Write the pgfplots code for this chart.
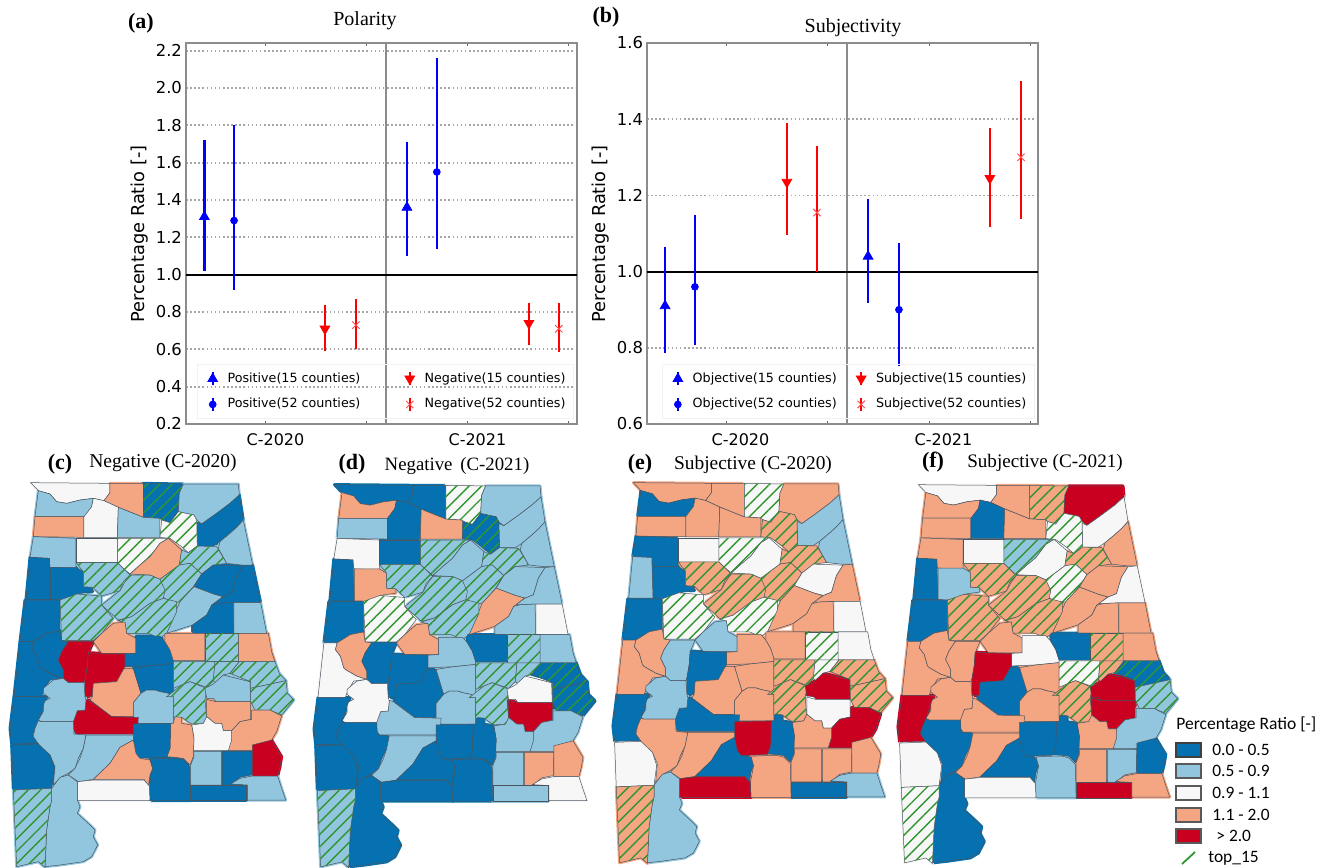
\documentclass[border=0pt]{standalone}
\usepackage{fontspec}
\usepackage{pgfplots}
\pgfplotsset{compat=1.18}
\usetikzlibrary{patterns.meta}
\setmainfont{Liberation Serif}
\newfontfamily\djv{DejaVu Sans}
\newfontfamily\carl{Carlito}
\definecolor{dk}{HTML}{0571B0}
\definecolor{lb}{HTML}{92C5DE}
\definecolor{wh}{HTML}{F7F7F7}
\definecolor{or}{HTML}{F4A582}
\definecolor{rd}{HTML}{CA0020}
\definecolor{bd}{HTML}{4A5560}
\definecolor{hatch}{HTML}{2F962F}
% county outlines, in units of 1/3 px from the top left of map (c)
\def\cLaud{(92,38)(330,40)(330,68)(312,92)(280,85)(240,90)(200,100)(170,95)(150,72)(115,62)}
\def\cLime{(330,40)(430,40)(430,142)(400,130)(355,112)(312,92)(330,68)}
\def\cMadi{(430,40)(550,42)(538,70)(535,125)(510,158)(485,150)(480,145)(430,142)}
\def\cJack{(550,42)(715,42)(718,75)(690,100)(650,130)(605,162)(590,150)(582,135)(535,125)(538,70)}
\def\cDeka{(718,75)(730,150)(712,170)(690,190)(660,215)(640,228)(592,228)(590,155)(605,162)(650,130)(690,100)}
\def\cCher{(730,150)(758,285)(725,285)(680,280)(655,235)(660,215)(690,190)(712,170)}
\def\cColb{(115,62)(150,72)(170,95)(200,100)(240,90)(280,85)(275,110)(255,140)(105,140)}
\def\cFran{(105,140)(252,140)(252,202)(100,200)}
\def\cLawr{(280,85)(312,92)(355,112)(352,202)(252,202)(252,140)(275,110)}
\def\cMorg{(355,112)(400,130)(430,142)(480,145)(480,202)(352,202)}
\def\cMars{(485,150)(510,158)(535,125)(582,135)(590,150)(592,228)(565,248)(545,230)(510,205)(480,202)}
\def\cMari{(100,200)(228,205)(228,295)(150,292)(148,265)(90,262)}
\def\cWins{(228,205)(352,205)(352,278)(228,278)}
\def\cCull{(352,205)(505,205)(480,220)(450,260)(420,285)(390,312)(370,295)(352,278)}
\def\cBlou{(505,205)(545,240)(538,285)(480,328)(450,315)(390,312)(420,285)(450,260)(480,220)}
\def\cEtow{(565,248)(592,228)(650,230)(680,280)(640,285)(605,312)(570,280)(538,285)(545,240)}
\def\cLama{(90,262)(148,265)(152,388)(78,388)}
\def\cFaye{(152,292)(228,292)(250,305)(250,350)(278,352)(278,365)(230,372)(215,390)(152,388)}
\def\cWalk{(228,278)(352,278)(390,315)(370,335)(360,362)(305,378)(278,352)(250,350)(250,305)}
\def\cStcl{(480,328)(538,285)(570,280)(605,312)(580,350)(565,368)(540,395)(520,400)(490,382)}
\def\cJeff{(390,315)(450,315)(480,328)(495,360)(490,385)(450,400)(395,440)(355,450)(305,405)(360,362)(375,335)}
\def\cCalh{(605,312)(640,285)(730,288)(710,320)(695,370)(670,380)(640,372)(582,350)}
\def\cCleb{(730,288)(758,285)(782,398)(700,398)(655,400)(640,400)(670,380)(695,370)(710,320)}
\def\cTall{(582,350)(640,372)(668,380)(635,405)(620,435)(578,465)(500,490)(540,395)(565,368)}
\def\cClay{(655,400)(700,398)(702,490)(578,490)(578,465)(620,435)(635,405)}
\def\cRand{(702,398)(782,398)(800,490)(702,490)}
\def\cPick{(75,390)(180,390)(180,482)(140,490)(100,515)(60,515)}
\def\cTusc{(180,390)(230,372)(305,378)(305,405)(340,445)(305,490)(280,512)(185,512)}
\def\cShel{(355,452)(395,440)(450,400)(490,385)(530,395)(530,425)(500,490)(480,505)(445,490)(380,490)(375,458)}
\def\cBibb{(340,460)(375,456)(380,490)(408,505)(408,550)(305,550)(280,515)(305,490)}
\def\cChil{(408,498)(480,498)(495,515)(510,540)(520,570)(520,580)(450,587)(375,590)(375,552)(408,550)}
\def\cCoos{(495,490)(615,490)(615,572)(520,572)(510,540)(495,515)}
\def\cTapo{(615,490)(715,490)(715,575)(615,575)}
\def\cCham{(715,490)(805,490)(815,545)(825,575)(715,575)}
\def\cSumt{(60,515)(100,515)(95,535)(110,555)(120,590)(125,595)(160,615)(190,625)(150,630)(130,665)(125,680)(42,680)}
\def\cGree{(100,515)(140,490)(180,482)(185,512)(205,515)(185,545)(175,570)(190,600)(190,625)(160,615)(125,595)(120,590)(110,555)(95,535)}
\def\cHale{(205,515)(280,515)(265,550)(262,590)(255,630)(252,638)(205,638)(190,625)(190,600)(175,570)(185,545)}
\def\cPerr{(265,548)(305,550)(375,552)(375,590)(360,625)(350,635)(280,640)(277,680)(255,680)(255,630)(262,590)}
\def\cDall{(280,640)(350,635)(372,595)(400,595)(423,670)(400,698)(400,740)(335,740)(270,690)(277,680)}
\def\cAuta{(400,595)(450,587)(520,580)(520,680)(505,670)(480,665)(465,660)(440,660)(423,670)}
\def\cLown{(400,698)(423,670)(440,660)(465,660)(480,665)(505,670)(520,680)(520,760)(400,760)}
\def\cWilc{(258,688)(270,692)(335,740)(415,742)(412,792)(228,792)(220,780)(220,750)(232,722)(255,720)}
\def\cHA{(520,575)(645,575)(640,632)(620,652)(570,635)(545,645)(520,655)}
\def\cHB{(500,680)(545,645)(570,635)(620,655)(615,690)(620,745)(610,760)(575,762)(545,742)(520,742)(520,680)}
\def\cHC{(645,575)(718,575)(690,610)(670,615)(650,640)(640,632)}
\def\cHD{(690,610)(718,575)(825,575)(838,610)(858,632)(752,655)(752,635)}
\def\cHE{(752,655)(858,632)(862,670)(882,690)(845,735)(810,720)(765,720)(752,695)}
\def\cFF{(615,655)(640,642)(670,615)(750,635)(752,695)(648,695)(640,685)(620,685)}
\def\cGG{(620,688)(648,695)(752,695)(752,748)(720,755)(695,782)(670,782)(665,760)(645,760)(620,740)}
\def\cHH{(755,720)(810,720)(845,738)(830,785)(815,810)(800,840)(755,842)(685,842)(695,782)(720,755)(755,748)}
\def\cII{(575,765)(610,760)(620,740)(645,760)(665,760)(670,782)(695,782)(695,810)(685,842)(580,842)(582,805)}
\def\cJJ{(512,760)(520,760)(525,740)(545,742)(545,760)(575,765)(582,805)(580,860)(570,885)(550,865)(525,862)(500,860)(510,835)}
\def\cKK{(400,762)(512,760)(510,835)(500,862)(420,865)(405,852)(400,820)}
\def\cNN{(130,655)(160,630)(190,625)(205,638)(252,638)(255,680)(258,690)(255,720)(232,722)(220,755)(125,755)(115,750)(130,725)(130,695)(150,685)(130,670)}
\def\cOO{(42,680)(140,680)(128,710)(115,752)(105,775)(98,795)(115,820)(35,822)(30,775)}
\def\cPP{(125,755)(220,755)(222,792)(258,795)(250,835)(235,865)(225,895)(205,910)(185,920)(160,945)(165,890)(150,855)(125,835)(100,800)(105,775)(115,752)}
\def\cQQ{(35,825)(115,822)(150,855)(163,895)(155,955)(40,960)}
\def\cRR{(258,795)(400,795)(400,810)(360,832)(330,880)(280,928)(235,935)(205,915)(225,895)(240,865)(250,835)}
\def\cSS{(400,810)(408,850)(420,865)(450,870)(458,895)(450,915)(445,948)(432,928)(280,928)(330,880)(360,832)}
\def\cTT{(450,867)(500,865)(530,865)(550,870)(570,890)(572,992)(450,992)(448,948)(458,895)}
\def\cUU{(582,845)(665,845)(665,945)(572,945)(572,885)(582,860)}
\def\cVV{(668,845)(757,845)(755,915)(720,922)(692,945)(668,945)}
\def\cWW{(757,825)(815,810)(830,835)(845,860)(840,890)(833,918)(757,918)}
\def\cXX{(692,942)(720,925)(757,918)(833,918)(845,955)(857,990)(742,990)(742,945)}
\def\cYY{(572,945)(740,945)(740,992)(572,992)}
\def\cZZ{(232,935)(280,930)(432,930)(448,948)(450,992)(232,992)}
\def\cBald{(155,955)(180,922)(205,915)(232,935)(232,990)(240,1010)(232,1030)(270,1065)(285,1080)(280,1100)(293,1125)(275,1160)(250,1175)(180,1185)(135,1190)(140,1080)(150,1010)(155,990)}
\def\cMobi{(40,960)(155,955)(155,990)(150,1010)(140,1080)(135,1192)(115,1175)(50,1190)}
% pass 1 closes the seams between neighbours; pass 2 draws county, outline and hatching
\newcommand\ctyunder[2]{\edef\tmp{\noexpand\addplot[fill=#2,draw=#2,line width=1.5pt,line join=round,no marks,sharp plot] coordinates {\csname c#1\endcsname} -- cycle;}\tmp}
\newcommand\ctyfull[2]{\edef\tmp{\noexpand\addplot[fill=#2,draw=bd,line width=.25pt,no marks,sharp plot] coordinates {\csname c#1\endcsname} -- cycle;}\tmp}
\newcommand\cthfull[2]{\ctyfull{#1}{#2}\edef\tmp{\noexpand\addplot[draw=none,no marks,sharp plot,pattern={Lines[angle=45,distance=4.4pt,line width=.7pt]},pattern color=hatch] coordinates {\csname c#1\endcsname} -- cycle;}\tmp}
\newcommand\drawmap[1]{\let\cty\ctyunder\let\cth\ctyunder #1\let\cty\ctyfull\let\cth\cthfull #1}
\def\listC{\cty{Laud}{wh}\cty{Lime}{or}\cth{Madi}{dk}\cty{Jack}{lb}\cty{Deka}{dk}\cty{Cher}{lb}%
\cty{Colb}{lb}\cty{Fran}{or}\cty{Lawr}{wh}\cty{Morg}{lb}\cth{Mars}{wh}%
\cty{Mari}{lb}\cty{Wins}{wh}\cth{Cull}{wh}\cty{Blou}{or}\cth{Etow}{lb}%
\cty{Lama}{dk}\cty{Faye}{dk}\cth{Walk}{lb}\cth{Stcl}{lb}\cth{Jeff}{lb}\cty{Calh}{dk}\cty{Cleb}{dk}%
\cty{Tall}{lb}\cty{Clay}{dk}\cty{Rand}{lb}\cty{Pick}{dk}\cth{Tusc}{lb}\cth{Shel}{lb}\cty{Bibb}{or}%
\cty{Chil}{dk}\cty{Coos}{or}\cth{Tapo}{lb}\cty{Cham}{or}\cty{Sumt}{dk}\cty{Gree}{dk}\cty{Hale}{rd}\cty{Perr}{rd}%
\cty{Dall}{or}\cty{Auta}{dk}\cty{Lown}{lb}\cty{Wilc}{rd}\cth{HA}{lb}\cth{HB}{lb}\cth{HC}{lb}\cth{HD}{lb}\cth{HE}{lb}%
\cty{FF}{lb}\cty{GG}{or}\cty{HH}{or}\cty{II}{wh}\cty{JJ}{or}\cty{KK}{dk}\cty{NN}{lb}\cty{OO}{dk}\cty{PP}{lb}\cty{QQ}{dk}%
\cty{RR}{lb}\cty{SS}{or}\cty{TT}{dk}\cty{UU}{lb}\cty{VV}{dk}\cty{WW}{rd}\cty{XX}{lb}\cty{YY}{dk}\cty{ZZ}{wh}\cty{Bald}{lb}\cth{Mobi}{lb}}
\def\listD{\cty{Laud}{dk}\cty{Lime}{dk}\cth{Madi}{wh}\cty{Jack}{lb}\cty{Deka}{lb}\cty{Cher}{lb}%
\cty{Colb}{or}\cty{Fran}{lb}\cty{Lawr}{dk}\cty{Morg}{or}\cth{Mars}{dk}%
\cty{Mari}{wh}\cty{Wins}{dk}\cth{Cull}{lb}\cty{Blou}{lb}\cth{Etow}{lb}%
\cty{Lama}{dk}\cty{Faye}{or}\cth{Walk}{lb}\cth{Stcl}{lb}\cth{Jeff}{lb}\cty{Calh}{lb}\cty{Cleb}{lb}%
\cty{Tall}{or}\cty{Clay}{lb}\cty{Rand}{wh}\cty{Pick}{dk}\cth{Tusc}{wh}\cth{Shel}{lb}\cty{Bibb}{or}%
\cty{Chil}{lb}\cty{Coos}{dk}\cth{Tapo}{lb}\cty{Cham}{lb}\cty{Sumt}{wh}\cty{Gree}{or}\cty{Hale}{dk}\cty{Perr}{dk}%
\cty{Dall}{dk}\cty{Auta}{lb}\cty{Lown}{lb}\cty{Wilc}{lb}\cth{HA}{lb}\cth{HB}{lb}\cth{HC}{lb}\cth{HD}{dk}\cth{HE}{dk}%
\cty{FF}{wh}\cty{GG}{rd}\cty{HH}{lb}\cty{II}{lb}\cty{JJ}{dk}\cty{KK}{dk}\cty{NN}{wh}\cty{OO}{dk}\cty{PP}{dk}\cty{QQ}{dk}%
\cty{RR}{lb}\cty{SS}{dk}\cty{TT}{dk}\cty{UU}{lb}\cty{VV}{or}\cty{WW}{or}\cty{XX}{wh}\cty{YY}{lb}\cty{ZZ}{dk}\cty{Bald}{dk}\cth{Mobi}{lb}}
\def\listE{\cty{Laud}{or}\cty{Lime}{or}\cth{Madi}{wh}\cty{Jack}{or}\cty{Deka}{lb}\cty{Cher}{lb}%
\cty{Colb}{dk}\cty{Fran}{or}\cty{Lawr}{or}\cty{Morg}{or}\cth{Mars}{or}%
\cty{Mari}{dk}\cty{Wins}{wh}\cth{Cull}{wh}\cty{Blou}{wh}\cth{Etow}{or}%
\cty{Lama}{lb}\cty{Faye}{dk}\cth{Walk}{or}\cth{Stcl}{or}\cth{Jeff}{or}\cty{Calh}{wh}\cty{Cleb}{or}%
\cty{Tall}{or}\cty{Clay}{or}\cty{Rand}{wh}\cty{Pick}{dk}\cth{Tusc}{wh}\cth{Shel}{wh}\cty{Bibb}{lb}%
\cty{Chil}{or}\cty{Coos}{or}\cth{Tapo}{wh}\cty{Cham}{wh}\cty{Sumt}{or}\cty{Gree}{or}\cty{Hale}{lb}\cty{Perr}{dk}%
\cty{Dall}{or}\cty{Auta}{or}\cty{Lown}{or}\cty{Wilc}{dk}\cth{HA}{or}\cth{HB}{or}\cth{HC}{wh}\cth{HD}{or}\cth{HE}{or}%
\cty{FF}{rd}\cty{GG}{wh}\cty{HH}{rd}\cty{II}{or}\cty{JJ}{dk}\cty{KK}{rd}\cty{NN}{lb}\cty{OO}{dk}\cty{PP}{or}\cty{QQ}{wh}%
\cty{RR}{or}\cty{SS}{dk}\cty{TT}{or}\cty{UU}{or}\cty{VV}{or}\cty{WW}{or}\cty{XX}{lb}\cty{YY}{dk}\cty{ZZ}{rd}\cty{Bald}{lb}\cth{Mobi}{or}}
\def\listF{\cty{Laud}{wh}\cty{Lime}{or}\cth{Madi}{or}\cty{Jack}{rd}\cty{Deka}{wh}\cty{Cher}{or}%
\cty{Colb}{or}\cty{Fran}{or}\cty{Lawr}{dk}\cty{Morg}{or}\cth{Mars}{wh}%
\cty{Mari}{or}\cty{Wins}{wh}\cth{Cull}{lb}\cty{Blou}{wh}\cth{Etow}{or}%
\cty{Lama}{dk}\cty{Faye}{lb}\cth{Walk}{or}\cth{Stcl}{wh}\cth{Jeff}{or}\cty{Calh}{or}\cty{Cleb}{wh}%
\cty{Tall}{or}\cty{Clay}{or}\cty{Rand}{or}\cty{Pick}{dk}\cth{Tusc}{or}\cth{Shel}{or}\cty{Bibb}{or}%
\cty{Chil}{wh}\cty{Coos}{dk}\cth{Tapo}{or}\cty{Cham}{or}\cty{Sumt}{or}\cty{Gree}{or}\cty{Hale}{or}\cty{Perr}{rd}%
\cty{Dall}{dk}\cty{Auta}{or}\cty{Lown}{or}\cty{Wilc}{or}\cth{HA}{wh}\cth{HB}{or}\cth{HC}{or}\cth{HD}{dk}\cth{HE}{lb}%
\cty{FF}{rd}\cty{GG}{rd}\cty{HH}{lb}\cty{II}{or}\cty{JJ}{dk}\cty{KK}{dk}\cty{NN}{or}\cty{OO}{rd}\cty{PP}{dk}\cty{QQ}{wh}%
\cty{RR}{or}\cty{SS}{dk}\cty{TT}{lb}\cty{UU}{or}\cty{VV}{lb}\cty{WW}{dk}\cty{XX}{or}\cty{YY}{rd}\cty{ZZ}{wh}\cty{Bald}{dk}\cth{Mobi}{wh}}
\pgfplotsset{
 mapax/.style={scale only axis,hide axis,clip=false,xmin=0,xmax=900,ymin=0,ymax=1194,y dir=reverse,anchor=north west},
 ebar/.style={only marks,color=#1,error bars/.cd,y dir=both,y explicit,error mark=none,error bar style={line width=1.2pt,color=#1,solid}},
 legbar/.style={legend image code/.code={\path[draw=none] (0,0)--(0.39cm,0);\draw[color=#1,line width=1pt] (0.2cm,-3.3pt)--(0.2cm,3.3pt);\draw[##1] plot coordinates {(0.2cm,0cm)};}},
 uptri/.style={mark=triangle*,mark size=2.8pt,mark options={solid,fill=blue,draw=blue}},
 dot/.style={mark=*,mark size=1.7pt,mark options={solid,fill=blue,draw=blue}},
 dntri/.style={mark=triangle*,mark size=2.8pt,mark options={solid,rotate=180,fill=red,draw=red}},
 xmk/.style={mark=x,mark size=2.6pt,mark options={solid,draw=red!70!white,line width=.45pt}},
 panel/.style={scale only axis,width=195.5pt,height=190.5pt,anchor=south west,
  xtick={0,1},xticklabels={C-2020,C-2021},minor xtick={.5,1.5},
  ymajorgrids,grid style={line width=.85pt,dash pattern=on .8pt off 1.25pt,color=black!35},
  minor tick length=1.5pt,major tick length=1.5pt,
  ytick style={draw=none},xtick style={draw=black!60,line width=.4pt},
  axis line style={draw=black!45,line width=.8pt},axis on top=false,
  tick label style={/pgf/number format/assume math mode=true},
  yticklabel style={font=\djv\fontsize{8.2}{9}\selectfont,/pgf/number format/fixed,/pgf/number format/fixed zerofill,/pgf/number format/precision=1,xshift=1.5pt},
  xticklabel style={font=\djv\fontsize{8}{9}\selectfont,yshift=-1.5pt},
  ylabel={Percentage Ratio [-]},
  ylabel style={font=\djv\fontsize{8.9}{10}\selectfont,at={(axis description cs:-0.1176,0.4987)},anchor=center},
  legend columns=2,legend cell align=left,
  legend style={anchor=center,draw=black!5,fill=none,font=\djv\fontsize{6.35}{7}\selectfont,row sep=2.5pt,inner xsep=2pt,inner ysep=2pt},
 },
}
\begin{document}
\begin{tikzpicture}
\path[use as bounding box] (0,0) rectangle (665pt,-434pt);
% ---------- (a)
\begin{axis}[panel,at={(93pt,-212pt)},xmin=-0.391,xmax=1.545,ymin=0.2,ymax=2.241,ytick={0.2,0.4,...,2.21},
  xticklabel style={xshift=5.25pt},
  legend style={at={(axis description cs:0.51,0.085)},/tikz/column 2/.style={column sep=17pt}}]
\addplot[forget plot,black!45,line width=.8pt] coordinates {(0.599,0.2)(0.599,2.241)};
\addplot[forget plot,black,line width=1pt] coordinates {(-0.391,1)(1.545,1)};
\addplot[uptri,legbar=blue,ebar=blue] coordinates {(-0.30,1.31) += (0,0.41) -= (0,0.29) (0.703,1.36) += (0,0.35) -= (0,0.26)};
\addlegendentry{Positive(15 counties)}
\addplot[dntri,legbar=red,ebar=red] coordinates {(0.297,0.71) += (0,0.125) -= (0,0.12) (1.307,0.74) += (0,0.11) -= (0,0.115)};
\addlegendentry{Negative(15 counties)}
\addplot[dot,legbar=blue,ebar=blue] coordinates {(-0.153,1.29) += (0,0.51) -= (0,0.37) (0.851,1.55) += (0,0.61) -= (0,0.41)};
\addlegendentry{Positive(52 counties)}
\addplot[xmk,legbar=red,ebar=red] coordinates {(0.45,0.73) += (0,0.14) -= (0,0.13) (1.455,0.71) += (0,0.14) -= (0,0.125)};
\addlegendentry{Negative(52 counties)}
\end{axis}
% ---------- (b)
\begin{axis}[panel,at={(323.5pt,-212pt)},xmin=-0.389,xmax=1.537,ymin=0.6,ymax=1.6,ytick={0.6,0.8,...,1.61},
  xticklabel style={xshift=7.25pt},
  legend style={at={(axis description cs:0.515,0.085)},/tikz/column 2/.style={column sep=4.5pt}}]
\addplot[forget plot,black!45,line width=.8pt] coordinates {(0.596,0.6)(0.596,1.6)};
\addplot[forget plot,black,line width=1pt] coordinates {(-0.389,1)(1.537,1)};
\addplot[uptri,legbar=blue,ebar=blue] coordinates {(-0.30,0.91) += (0,0.155) -= (0,0.123) (0.70,1.04) += (0,0.15) -= (0,0.122)};
\addlegendentry{Objective(15 counties)}
\addplot[dntri,legbar=red,ebar=red] coordinates {(0.30,1.235) += (0,0.155) -= (0,0.14) (1.30,1.245) += (0,0.133) -= (0,0.127)};
\addlegendentry{Subjective(15 counties)}
\addplot[dot,legbar=blue,ebar=blue] coordinates {(-0.153,0.96) += (0,0.188) -= (0,0.152) (0.852,0.90) += (0,0.175) -= (0,0.148)};
\addlegendentry{Objective(52 counties)}
\addplot[xmk,legbar=red,ebar=red] coordinates {(0.448,1.155) += (0,0.175) -= (0,0.155) (1.453,1.30) += (0,0.20) -= (0,0.162)};
\addlegendentry{Subjective(52 counties)}
\end{axis}
% ---------- maps
\begin{axis}[mapax,at={(0pt,-235pt)},width=150pt,height=199pt]
\drawmap{\listC}
\end{axis}
\begin{axis}[mapax,at={(152.05pt,-236pt)},width=148.5pt,height=198.1pt]
\drawmap{\listD}
\end{axis}
\begin{axis}[mapax,at={(301.55pt,-235.05pt)},width=147.9pt,height=197pt]
\drawmap{\listE}
\end{axis}
\begin{axis}[mapax,at={(444.05pt,-236.1pt)},width=147.9pt,height=196pt]
\drawmap{\listF}
\end{axis}
% ---------- overlay: titles and map legend, in px
\begin{axis}[scale only axis,hide axis,clip=false,xmin=0,xmax=1330,ymin=0,ymax=868,y dir=reverse,width=665pt,height=434pt,at={(0pt,-434pt)},anchor=south west]
\addplot[fill=dk,draw=black!75,line width=.6pt] coordinates {(1176,743)(1201,743)(1201,757)(1176,757)} -- cycle;
\addplot[fill=lb,draw=black!65,line width=.6pt] coordinates {(1176,764)(1201,764)(1201,778)(1176,778)} -- cycle;
\addplot[fill=wh,draw=black!65,line width=.6pt] coordinates {(1176,786)(1201,786)(1201,800)(1176,800)} -- cycle;
\addplot[fill=or,draw=black!65,line width=.6pt] coordinates {(1176,808)(1201,808)(1201,822)(1176,822)} -- cycle;
\addplot[fill=rd,draw=black!65,line width=.6pt] coordinates {(1176,829)(1201,829)(1201,843)(1176,843)} -- cycle;
\addplot[hatch,line width=.9pt,no marks] coordinates {(1182,864)(1195,852)};
\node[font=\bfseries\fontsize{11}{12}\selectfont] at (141,23) {(a)};
\node[font=\fontsize{10}{12}\selectfont] at (365,21) {Polarity};
\node[font=\bfseries\fontsize{11}{12}\selectfont] at (606,17) {(b)};
\node[font=\fontsize{10}{12}\selectfont] at (853,28) {Subjectivity};
\node[font=\bfseries\fontsize{11}{12}\selectfont] at (60,464) {(c)};
\node[font=\fontsize{9.8}{11}\selectfont] at (163,463) {Negative (C-2020)};
\node[font=\bfseries\fontsize{11}{12}\selectfont] at (352,464) {(d)};
\node[font=\fontsize{9.4}{11}\selectfont] at (457,466) {Negative\, (C-2021)};
\node[font=\bfseries\fontsize{11}{12}\selectfont] at (640,464) {(e)};
\node[font=\fontsize{9.7}{11}\selectfont] at (753,465) {Subjective (C-2020)};
\node[font=\bfseries\fontsize{11}{12}\selectfont] at (933,462) {(f)};
\node[font=\fontsize{9.55}{11}\selectfont] at (1045,463) {Subjective (C-2021)};
\node[font=\carl\fontsize{8.75}{10}\selectfont,anchor=west,inner sep=0pt] at (1176,725) {Percentage Ratio [-]};
\node[font=\carl\fontsize{8.7}{10}\selectfont,anchor=west,inner sep=0pt] at (1212,750) {0.0 - 0.5};
\node[font=\carl\fontsize{8.7}{10}\selectfont,anchor=west,inner sep=0pt] at (1212,771) {0.5 - 0.9};
\node[font=\carl\fontsize{8.7}{10}\selectfont,anchor=west,inner sep=0pt] at (1212,793) {0.9 - 1.1};
\node[font=\carl\fontsize{8.7}{10}\selectfont,anchor=west,inner sep=0pt] at (1212,815) {1.1 - 2.0};
\node[font=\carl\fontsize{8.7}{10}\selectfont,anchor=west,inner sep=0pt] at (1216,836) {> 2.0};
\node[font=\carl\fontsize{8.7}{10}\selectfont,anchor=west,inner sep=0pt] at (1208,858) {top\_15};
\end{axis}
\end{tikzpicture}
\end{document}
